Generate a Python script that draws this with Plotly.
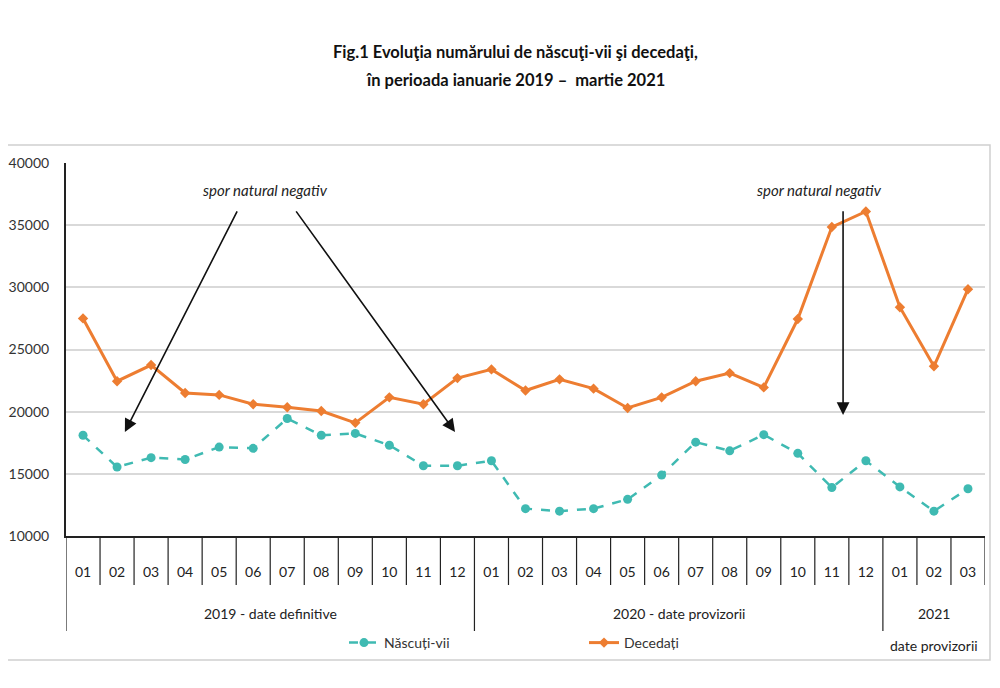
import plotly.graph_objects as go

# ---------------- data ----------------
months = ["01", "02", "03", "04", "05", "06", "07", "08", "09", "10", "11", "12",
          "01", "02", "03", "04", "05", "06", "07", "08", "09", "10", "11", "12",
          "01", "02", "03"]
years = [2019] * 12 + [2020] * 12 + [2021] * 3
year_labels = {2019: "2019 - date definitive",
               2020: "2020 - date provizorii",
               2021: "2021"}
year_sublabel_2021 = "date provizorii"

nascuti_vii = [18100, 15550, 16300, 16150, 17150, 17050, 19450, 18100, 18250, 17300, 15650, 15650,
               16050, 12200, 12000, 12200, 12950, 14900, 17550, 16850, 18150, 16650, 13900, 16050,
               13950, 12000, 13800]
decedati = [27500, 22450, 23750, 21500, 21350, 20600, 20350, 20050, 19100, 21150, 20600, 22700,
            23400, 21700, 22600, 21850, 20300, 21150, 22450, 23100, 21950, 27450, 34850, 36100,
            28400, 23650, 29850]

y_ticks = [10000, 15000, 20000, 25000, 30000, 35000, 40000]
y_ticktext = ["10000", "15000", "20000", "25000", "30000", "35000", "40000"]

title_l1 = "Fig.1 Evoluţia numărului de născuţi-vii şi decedaţi,"
title_l2 = "în perioada ianuarie 2019 –  martie 2021"
note_text = "spor natural negativ"

n = len(months)
xs = list(range(n))

FONT = "Lato, Arial, sans-serif"
TEAL = "#3FBAB2"
ORANGE = "#ED7D31"
DARK = "#404040"

fig = go.Figure()
fig.add_trace(go.Scatter(
    x=xs, y=nascuti_vii, name="Născuți-vii", mode="lines+markers",
    line=dict(color=TEAL, width=2.5, dash="dash"),
    marker=dict(symbol="circle", size=9, color=TEAL),
))
fig.add_trace(go.Scatter(
    x=xs, y=decedati, name="Decedați", mode="lines+markers",
    line=dict(color=ORANGE, width=3),
    marker=dict(symbol="diamond", size=8, color=ORANGE),
))

# geometry: the page body adds an 8px margin, so the figure starts at (8, 8)
OFF = 8
W, H = 992, 680
L = 66 - OFF          # plot left  (screen px 66)
T = 163 - OFF         # plot top   (screen px 163)
PR = 985 - OFF        # plot right (screen px 985)
PB = 536 - OFF        # plot bottom(screen px 536)
R = W - PR
B = H - PB
ph = PB - T
pw = PR - L


def py(p):
    """screen pixel row -> paper y"""
    return (PB - (p - OFF)) / ph


def px(p):
    """screen pixel column -> paper x"""
    return ((p - OFF) - L) / pw


shapes = []
group_starts = [i for i in range(n) if i == 0 or years[i] != years[i - 1]]
for i in range(n + 1):
    long_line = i in group_starts
    shapes.append(dict(type="line", xref="x", yref="paper",
                       x0=i - 0.5, x1=i - 0.5, y0=0, y1=py(631 if long_line else 585),
                       line=dict(color="#222222", width=1.2)))
shapes.append(dict(type="rect", xref="paper", yref="paper",
                   x0=px(7), x1=px(990), y0=py(660), y1=py(145),
                   line=dict(color="#d0d0d0", width=1.5), fillcolor="rgba(0,0,0,0)", layer="below"))

annotations = []
# title lines
for text, row in [(title_l1, 52), (title_l2, 80)]:
    annotations.append(dict(x=px(515), y=py(row), xref="paper", yref="paper",
                            xanchor="center", yanchor="middle", text="<b>" + text + "</b>",
                            showarrow=False, font=dict(family=FONT, size=16.5, color="#111111")))
# year group labels
for y in sorted(set(years)):
    idx = [i for i in range(n) if years[i] == y]
    cx = (idx[0] + idx[-1]) / 2
    annotations.append(dict(x=cx, y=py(613), xref="x", yref="paper", text=year_labels[y],
                            xanchor="center", yanchor="middle",
                            showarrow=False, font=dict(family=FONT, size=14, color="#222222")))
    if y == 2021:
        annotations.append(dict(x=cx, y=py(645), xref="x", yref="paper", text=year_sublabel_2021,
                                xanchor="center", yanchor="middle",
                                showarrow=False, font=dict(family=FONT, size=14, color="#222222")))

annotations.append(dict(x=5.35, y=37800, xref="x", yref="y", text="<i>" + note_text + "</i>",
                        showarrow=False, font=dict(family=FONT, size=15, color="#222222")))
annotations.append(dict(x=21.65, y=37800, xref="x", yref="y", text="<i>" + note_text + "</i>",
                        showarrow=False, font=dict(family=FONT, size=15, color="#222222")))
for (hx, hy, tx, ty) in [(1.23, 18370, 4.55, 36230), (10.93, 18370, 6.23, 36230),
                         (22.33, 19730, 22.33, 36230)]:
    annotations.append(dict(x=hx, y=hy, ax=tx, ay=ty, xref="x", yref="y", axref="x", ayref="y",
                            text="", showarrow=True, arrowhead=2, arrowsize=1.6, arrowwidth=1.6,
                            arrowcolor="#111111"))

fig.update_layout(
    width=W, height=H,
    margin=dict(l=L, r=R, t=T, b=B, autoexpand=False),
    paper_bgcolor="white", plot_bgcolor="white",
    font=dict(family=FONT, color=DARK),
    showlegend=True,
    legend=dict(orientation="h", x=px(344), xanchor="left", y=py(643), yanchor="middle",
                entrywidth=195, entrywidthmode="pixels",
                font=dict(family=FONT, size=14, color="#333333"), bgcolor="rgba(0,0,0,0)"),
    xaxis=dict(range=[-0.5, n - 0.5], tickmode="array", tickvals=xs, ticktext=months,
               showgrid=False, zeroline=False, showline=True, linecolor="#222222", linewidth=2,
               ticks="", ticklabelstandoff=22, automargin=False,
               tickfont=dict(family=FONT, size=14, color="#222222")),
    yaxis=dict(range=[10000, 40000], tickmode="array", tickvals=y_ticks, ticktext=y_ticktext,
               showgrid=True, gridcolor="#d9d9d9", gridwidth=1.5, zeroline=False,
               showline=True, linecolor="#222222", linewidth=2, ticks="",
               ticklabelstandoff=12, automargin=False,
               tickfont=dict(family=FONT, size=14, color="#333333")),
    shapes=shapes,
    annotations=annotations,
)

fig.write_html("out.html")
